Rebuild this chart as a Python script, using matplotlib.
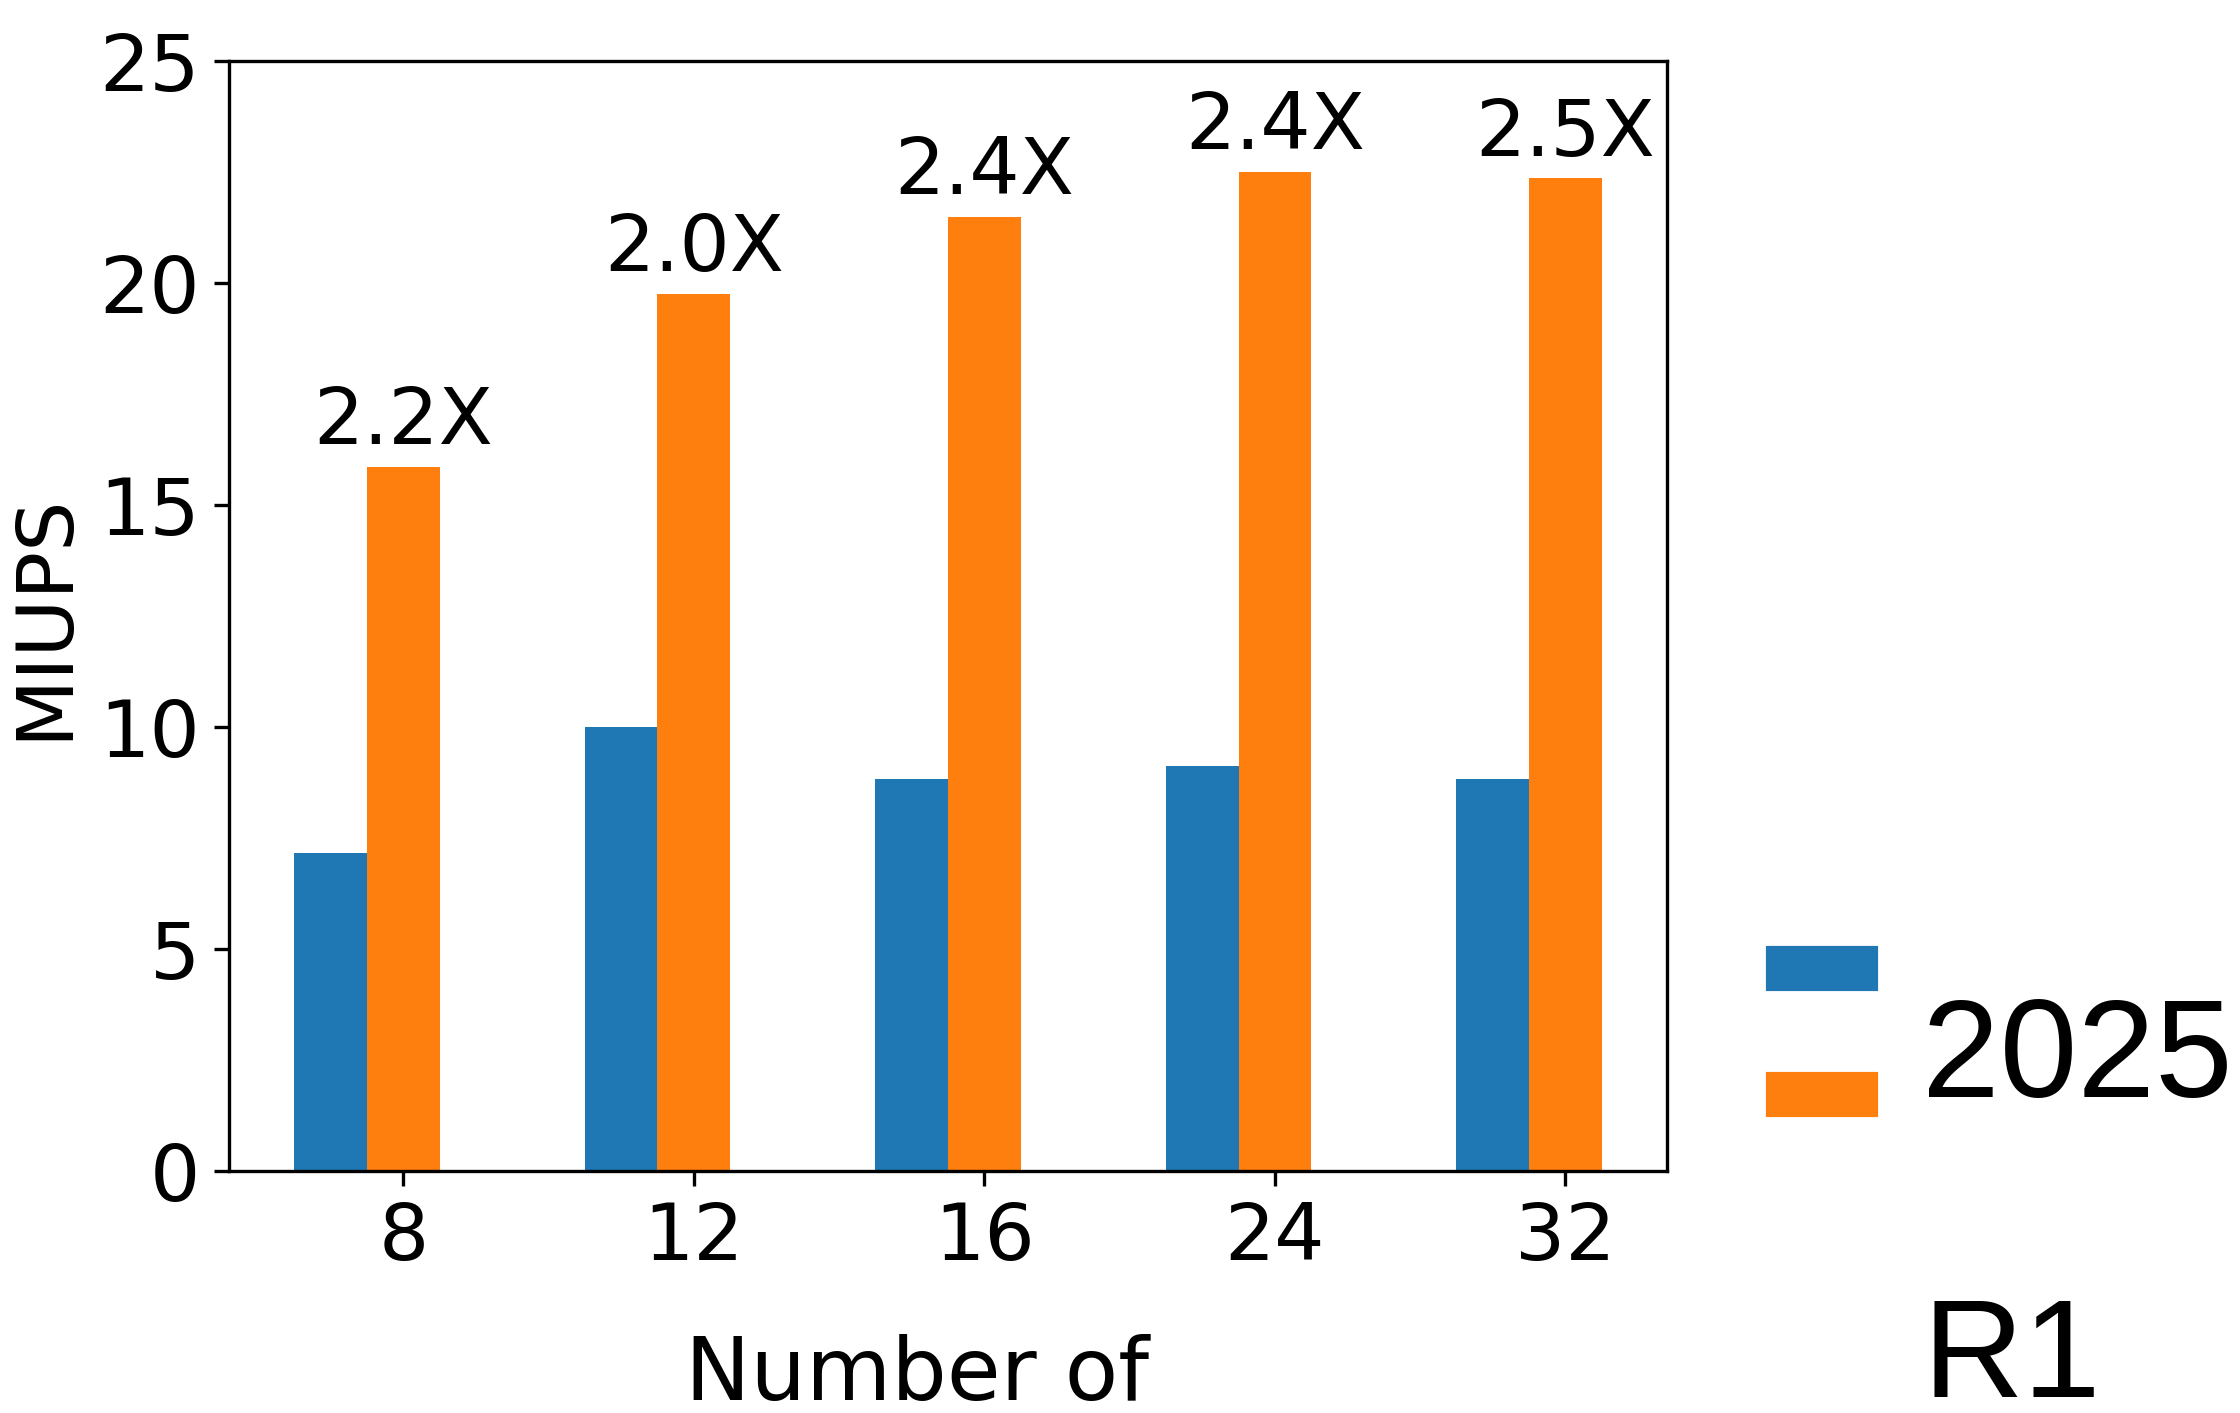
import matplotlib.pyplot as plt
import numpy as np
from matplotlib.patches import Rectangle

# data
threads = ["8", "12", "16", "24", "32"]
baseline = [7.16, 10.0, 8.83, 9.12, 8.83]
improved = [15.86, 19.75, 21.49, 22.50, 22.36]
speedups = ["2.2X", "2.0X", "2.4X", "2.4X", "2.5X"]

blue = "#1f77b4"
orange = "#ff7f0e"
width = 0.25

fig = plt.figure(figsize=(2240 / 300, 1413 / 300), dpi=300)
ax = fig.add_axes([229 / 2240, 1 - 1171 / 1413, (1667 - 229) / 2240, (1171 - 61) / 1413])

x = np.arange(len(threads))
ax.bar(x - width, baseline, width, color=blue)
ax.bar(x, improved, width, color=orange)

# speedup labels above the orange bars
for xi, h, s in zip(x, improved, speedups):
    ax.text(xi, h + 0.15, s, ha="center", va="bottom", fontsize=19)

ax.set_xticks(x)
ax.set_xticklabels(threads)
ax.set_ylim(0, 25)
ax.set_yticks([0, 5, 10, 15, 20, 25])
ax.tick_params(labelsize=19)
ax.set_ylabel("MIUPS", fontsize=19)

fig.text(917 / 2240, 1 - 1400 / 1413, "Number of", ha="center", va="baseline", fontsize=21)

# legend pieces (cropped in the original)
fig.patches.append(Rectangle((1768 / 2240, 1 - 989 / 1413), 108 / 2240, 41 / 1413,
                             transform=fig.transFigure, color=blue))
fig.patches.append(Rectangle((1768 / 2240, 1 - 1115 / 1413), 108 / 2240, 41 / 1413,
                             transform=fig.transFigure, color=orange))
fig.text(1922 / 2240, 1 - 1097 / 1413, "2025", ha="left", va="baseline",
         fontsize=33.5, family="Liberation Sans")
fig.text(1922 / 2240, 1 - 1397 / 1413, "R1", ha="left", va="baseline",
         fontsize=33.5, family="Liberation Sans")

fig.savefig("out.png", dpi=300)
